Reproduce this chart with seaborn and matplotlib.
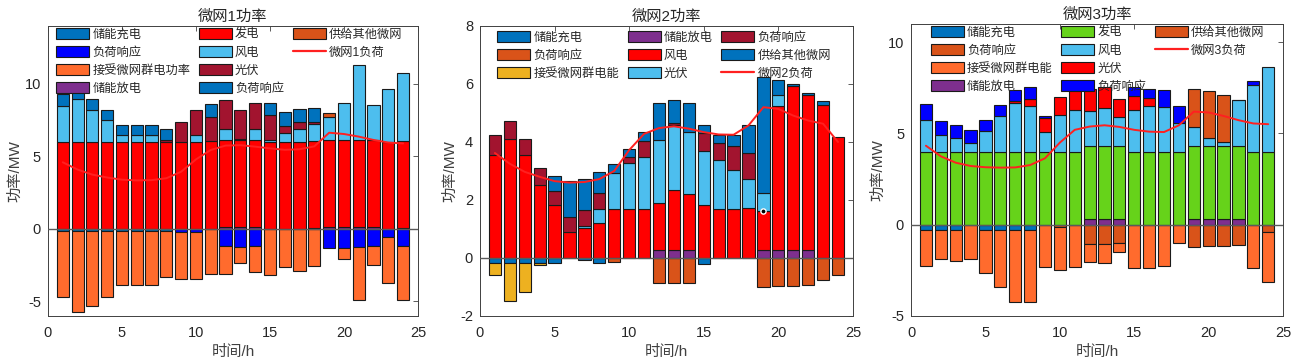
import numpy as np
import matplotlib
matplotlib.use("Agg")
import matplotlib.pyplot as plt
from matplotlib.patches import Patch
from matplotlib.lines import Line2D
import seaborn as sns

# 时段
hours = np.arange(1, 25)

# ---------------- 微网1 ----------------
mg1_charge = [-0.12, -0.12, -0.12, -0.12, -0.12, -0.12, -0.12, -0.12, 0, 0, 0, 0,
              0, 0, 0, 0, 0, 0, 0, 0, 0, 0, 0, 0]
mg1_dr_down = [0, 0, 0, 0, 0, 0, 0, 0, -0.18, -0.18, 0, -1.14,
               -1.21, -1.14, 0, 0, 0, 0, -1.28, -1.3, -1.23, -1.19, -0.53, -1.14]
mg1_receive = [-4.58, -5.61, -5.18, -4.58, -3.72, -3.72, -3.72, -3.21, -3.24, -3.24, -3.13, -1.99,
               -1.14, -1.85, -3.17, -2.63, -2.88, -2.53, 0, -0.8, -3.7, -1.28, -3.21, -3.79]
mg1_discharge = [0, 0, 0, 0, 0, 0, 0, 0, 0, 0, 0, 0.12,
                 0.12, 0.12, 0, 0, 0, 0.08, 0.12, 0.12, 0.12, 0.12, 0, 0.07]
mg1_gen = [6.0, 6.0, 6.0, 6.0, 6.0, 6.0, 6.0, 6.0, 6.0, 6.0, 6.05, 6.0,
           6.0, 6.0, 6.0, 6.0, 6.0, 6.0, 6.0, 6.0, 6.0, 6.0, 5.98, 6.0]
mg1_wind = [2.45, 2.97, 2.24, 1.53, 0.5, 0.5, 0.46, 0, 0, 0.46, 0, 0.8,
            0.08, 0.75, 0.14, 0.62, 0.92, 1.13, 1.62, 2.56, 5.2, 2.4, 3.7, 4.71]
mg1_pv = [0, 0, 0, 0, 0, 0, 0.03, 0.16, 1.35, 1.78, 1.7, 1.96,
          2.03, 1.83, 1.69, 0.46, 0.43, 0.19, 0, 0, 0, 0, 0, 0]
mg1_dr_up = [0.89, 0.85, 0.73, 0.71, 0.67, 0.67, 0.68, 0.71, 0, 0, 0.89, 0,
             0, 0, 0.89, 1.0, 0.94, 0.93, 0, 0, 0, 0, 0, 0]
mg1_supply = [0, 0, 0, 0, 0, 0, 0, 0, 0, 0, 0, 0,
              0, 0, 0, 0, 0, 0, 0.23, 0, 0, 0, 0, 0]
mg1_load = [4.6, 4.1, 3.75, 3.55, 3.4, 3.35, 3.37, 3.5, 3.95, 4.8, 5.45, 5.75,
            5.78, 5.68, 5.56, 5.46, 5.5, 5.7, 6.64, 6.55, 6.37, 6.14, 5.96, 5.9]

# ---------------- 微网2 ----------------
mg2_charge = [-0.17, -0.18, -0.18, -0.17, -0.18, 0, -0.06, -0.18, 0, 0, 0, 0,
              0, 0, -0.2, 0, 0, 0, 0, 0, 0, 0, 0, 0]
mg2_dr_down = [0, 0, 0, 0, 0, 0, 0, 0, -0.15, 0, 0, -0.85,
               -0.85, -0.85, 0, 0, 0, 0, -1.0, -0.98, -0.95, -0.92, -0.76, -0.57]
mg2_receive = [-0.42, -1.32, -1.0, -0.08, 0, 0, 0, 0, 0, 0, 0, 0,
               0, 0, 0, 0, 0, 0, 0, 0, 0, 0, 0, 0]
mg2_discharge = [0, 0, 0, 0, 0, 0, 0, 0, 0, 0, 0, 0.27,
                 0.27, 0.27, 0, 0, 0, 0, 0.27, 0.27, 0.27, 0.27, 0, 0]
mg2_wind = [3.54, 4.09, 3.54, 2.51, 1.83, 0.89, 1.03, 1.19, 1.68, 1.68, 1.68, 1.64,
            2.07, 1.94, 1.83, 1.68, 1.68, 1.74, 1.35, 4.96, 5.65, 5.36, 5.26, 4.18]
mg2_pv = [0, 0, 0, 0, 0, 0, 0.09, 0.5, 1.26, 1.6, 1.79, 2.15,
          2.25, 2.13, 1.85, 1.69, 1.34, 0.97, 0.62, 0.39, 0, 0, 0, 0]
mg2_dr_up = [0.71, 0.65, 0.55, 0.58, 0.49, 0.53, 0.54, 0.55, 0, 0.2, 0.55, 0,
             0.07, 0, 0.62, 0.61, 0.84, 0.92, 0, 0, 0, 0, 0, 0]
mg2_supply = [0, 0, 0, 0, 0.51, 1.22, 1.06, 0.72, 0.31, 0.27, 0.32, 1.3,
              0.79, 1.01, 0.27, 0.26, 0.39, 0.95, 3.99, 0.53, 0.07, 0.07, 0.16, 0]
mg2_load = [3.62, 3.25, 2.97, 2.8, 2.65, 2.6, 2.62, 2.72, 3.0, 3.72, 4.28, 4.48,
            4.54, 4.46, 4.34, 4.26, 4.25, 4.57, 5.2, 5.14, 4.91, 4.74, 4.63, 4.0]
mg2_tip_hour = 19  # 数据提示点

# ---------------- 微网3 ----------------
mg3_charge = [-0.27, -0.27, -0.27, 0, -0.27, -0.27, -0.27, -0.27, 0, 0, 0, 0,
              0, 0, 0, 0, 0, 0, 0, 0, 0, 0, 0, 0]
mg3_dr_down = [0, 0, 0, 0, 0, 0, 0, 0, 0, -0.13, 0, -1.04,
               -1.07, -0.98, 0, 0, 0, 0, -1.22, -1.16, -1.16, -1.13, 0, -0.4]
mg3_receive = [-1.98, -1.6, -1.69, -1.87, -2.35, -3.15, -3.95, -3.98, -2.33, -2.36, -2.33, -1.0,
               -1.02, -0.51, -2.35, -2.35, -2.25, -1.0, 0, 0, 0, 0, -2.35, -2.73]
mg3_discharge = [0, 0, 0, 0, 0, 0, 0, 0, 0, 0, 0, 0.33,
                 0.33, 0.33, 0, 0, 0, 0, 0.33, 0.33, 0.33, 0.33, 0, 0]
mg3_gen = [4.0, 4.0, 4.0, 4.0, 4.0, 4.0, 4.0, 4.0, 4.0, 4.0, 4.0, 4.0,
           4.0, 4.0, 4.0, 4.0, 4.0, 4.0, 4.0, 4.0, 4.0, 4.0, 4.0, 4.0]
mg3_wind = [1.75, 0.93, 0.76, 0.5, 1.11, 1.98, 2.67, 2.49, 1.09, 2.02, 2.29, 1.91,
            2.09, 1.58, 2.27, 2.51, 2.45, 1.6, 1.03, 0.45, 0.23, 2.49, 3.65, 4.65]
mg3_pv = [0, 0, 0, 0, 0, 0, 0.11, 0.42, 0.78, 1.0, 1.18, 1.21,
          1.13, 0.96, 0.78, 0.45, 0, 0, 0, 0, 0, 0, 0, 0]
mg3_dr_up = [0.85, 0.76, 0.69, 0.68, 0.64, 0.6, 0.6, 0.65, 0.09, 0, 0, 0,
             0, 0, 0.48, 0.49, 0.93, 0.91, 0, 0, 0, 0, 0.2, 0]
mg3_supply = [0, 0, 0, 0, 0, 0, 0, 0, 0, 0, 0, 0,
              0, 0, 0, 0, 0, 0, 2.09, 2.55, 2.57, 0.03, 0, 0]
mg3_load = [4.33, 3.75, 3.4, 3.22, 3.15, 3.13, 3.14, 3.27, 3.64, 4.5, 5.2, 5.38,
            5.45, 5.36, 5.2, 5.1, 5.08, 5.45, 6.2, 6.15, 5.96, 5.73, 5.55, 5.51]

# 颜色 (MATLAB 风格)
C_BLUE = '#0072BD'
C_PURE = '#0000FF'
C_ORANGE = '#FF6B2D'
C_PURPLE = '#7E2F8E'
C_RED = '#FF0000'
C_LIGHT = '#4DBEEE'
C_DARKRED = '#A2142F'
C_BROWN = '#D95319'
C_YELLOW = '#EDB120'
C_GREEN = '#66D31A'
C_LINE = '#FF2020'
EDGE = '#1a1a1a'
TXT = '#262626'


def draw_panel(ax, series, load, load_label, title, ylim, yticks, leg_anchor, tip=None):
    pos = np.zeros(len(hours))
    neg = np.zeros(len(hours))
    handles = []
    tip_y = None
    for label, vals, color in series:
        v = np.asarray(vals, dtype=float)
        base = np.where(v >= 0, pos, neg)
        sns.barplot(x=hours, y=v, bottom=base, native_scale=True, color=color,
                    saturation=1, width=0.82, errorbar=None, edgecolor=EDGE,
                    linewidth=np.where(v != 0, 0.8, 0.0), ax=ax)
        pos += np.clip(v, 0, None)
        neg += np.clip(v, None, 0)
        handles.append(Patch(facecolor=color, edgecolor=EDGE, linewidth=0.8, label=label))
        if tip is not None and label == tip[0]:
            tip_y = pos[tip[1] - 1]
    ax.axhline(0, color='#5a5a5a', lw=1.0, zorder=3)
    sns.lineplot(x=hours, y=load, color=C_LINE, linewidth=1.4, ax=ax, zorder=4)
    handles.append(Line2D([], [], color=C_LINE, lw=1.6, label=load_label))
    if tip_y is not None:
        ax.scatter([tip[1]], [tip_y], s=14, color='black', edgecolors='white',
                   linewidths=1.0, zorder=6)
    if len(handles) % 3 == 1:
        handles.append(Patch(facecolor='none', edgecolor='none', label=''))

    ax.set_xlim(0, 25)
    ax.set_ylim(*ylim)
    ax.set_xticks([0, 5, 10, 15, 20, 25])
    ax.set_yticks(yticks)
    ax.set_title(title, fontsize=11, color=TXT, pad=4)
    ax.set_xlabel('时间/h', fontsize=11, color='#404040', labelpad=4)
    ax.set_ylabel('功率/MW', fontsize=11, color='#404040', labelpad=2)
    ax.tick_params(direction='in', top=True, right=True, length=3.5, width=0.6,
                   labelsize=10.5, colors='#404040', labelcolor=TXT)
    ax.tick_params(axis='x', pad=7)
    ax.tick_params(axis='y', pad=5)
    for s in ax.spines.values():
        s.set_visible(True)
        s.set_color('#404040')
        s.set_linewidth(0.7)
    ax.grid(False)
    ax.legend(handles=handles, ncol=3, loc='upper left', bbox_to_anchor=leg_anchor,
              frameon=False, fontsize=8.8, handlelength=2.7, handleheight=1.0,
              labelspacing=0.42, handletextpad=0.25, columnspacing=0.7,
              borderpad=0.2, borderaxespad=0.0, labelcolor=TXT)


sns.set_style("white")
plt.rcParams['font.family'] = ['Liberation Sans', 'Noto Sans CJK SC']
plt.rcParams['axes.unicode_minus'] = False

fig = plt.figure(figsize=(13, 3.64), dpi=100)
ax1 = fig.add_axes([0.0369, 0.1319, 0.2846, 0.7967])
ax2 = fig.add_axes([0.3692, 0.1319, 0.2869, 0.7967])
ax3 = fig.add_axes([0.7008, 0.1319, 0.2862, 0.8022])

draw_panel(ax1, [
    ('储能充电', mg1_charge, C_BLUE),
    ('负荷响应', mg1_dr_down, C_PURE),
    ('接受微网群电功率', mg1_receive, C_ORANGE),
    ('储能放电', mg1_discharge, C_PURPLE),
    ('发电', mg1_gen, C_RED),
    ('风电', mg1_wind, C_LIGHT),
    ('光伏', mg1_pv, C_DARKRED),
    ('负荷响应', mg1_dr_up, C_BLUE),
    ('供给其他微网', mg1_supply, C_BROWN),
], mg1_load, '微网1负荷', '微网1功率', (-6, 14), [-5, 0, 5, 10], (0.016, 1.0))

draw_panel(ax2, [
    ('储能充电', mg2_charge, C_BLUE),
    ('负荷响应', mg2_dr_down, C_BROWN),
    ('接受微网群电能', mg2_receive, C_YELLOW),
    ('储能放电', mg2_discharge, C_PURPLE),
    ('风电', mg2_wind, C_RED),
    ('光伏', mg2_pv, C_LIGHT),
    ('负荷响应', mg2_dr_up, C_DARKRED),
    ('供给其他微网', mg2_supply, C_BLUE),
], mg2_load, '微网2负荷', '微网2功率', (-2, 8), [-2, 0, 2, 4, 6, 8], (0.04, 0.99),
    tip=('风电', mg2_tip_hour))

draw_panel(ax3, [
    ('储能充电', mg3_charge, C_BLUE),
    ('负荷响应', mg3_dr_down, C_BROWN),
    ('接受微网群电能', mg3_receive, C_ORANGE),
    ('储能放电', mg3_discharge, C_PURPLE),
    ('发电', mg3_gen, C_GREEN),
    ('风电', mg3_wind, C_LIGHT),
    ('光伏', mg3_pv, C_RED),
    ('负荷响应', mg3_dr_up, C_PURE),
    ('供给其他微网', mg3_supply, C_BROWN),
], mg3_load, '微网3负荷', '微网3功率', (-5, 11), [-5, 0, 5, 10], (0.047, 1.0))

fig.savefig('out.png', dpi=100)
